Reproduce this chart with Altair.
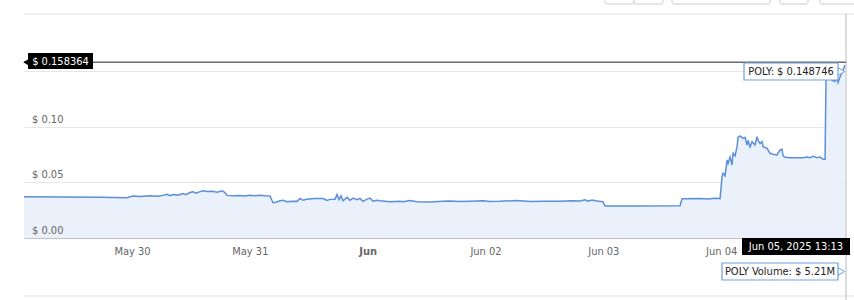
import altair as alt
import pandas as pd

# hours after 2025-05-29 00:00 UTC
hours = [2.0, 9.33, 17.48, 22.98, 24.20, 25.63, 27.67, 29.30, 30.31, 31.13, 31.74, 32.56, 33.37,
         34.39, 35.00, 35.81, 36.43, 37.04, 37.85, 38.46, 39.28, 40.30, 41.31, 42.33, 42.94,
         43.35, 44.57, 46.00, 47.02, 48.04, 49.06, 50.07, 51.09, 52.11, 52.72, 53.33, 54.15,
         54.76, 55.57, 56.59, 57.61, 58.22, 58.83, 59.85, 61.28, 62.91, 63.72, 64.33, 65.35,
         65.76, 66.17, 66.57, 66.98, 67.80, 68.41, 69.02, 69.83, 70.44, 71.05, 71.87, 72.48,
         73.09, 73.91, 74.52, 76.56, 78.59, 79.20, 80.63, 82.05, 84.70, 87.35, 88.78, 90.81,
         92.85, 95.50, 96.92, 98.96, 102.42, 105.07, 108.13, 111.18, 113.83, 115.26, 116.28,
         116.89, 117.70, 118.72, 119.94, 120.35, 127.48, 135.63, 136.04, 139.70, 141.33,
         142.76, 143.78, 144.19, 144.39, 144.80, 145.21, 145.41, 145.82, 146.22, 146.43,
         146.84, 147.24, 147.45, 147.85, 148.46, 148.87, 149.28, 149.48, 149.89, 150.30,
         150.91, 151.32, 151.52, 151.93, 152.34, 152.54, 153.35, 153.96, 154.57, 155.39,
         156.00, 156.41, 156.61, 157.02, 158.04, 159.46, 160.69, 161.50, 162.11, 162.72,
         163.53, 164.15, 164.76, 165.17, 165.37, 165.78, 166.59, 167.20, 167.61, 167.81,
         168.22, 168.83, 169.24]
price = [0.0372, 0.0370, 0.0366, 0.0363, 0.0378, 0.0374, 0.0380, 0.0376, 0.0384, 0.0393, 0.0382,
         0.0392, 0.0386, 0.0401, 0.0390, 0.0410, 0.0417, 0.0404, 0.0418, 0.0426, 0.0418, 0.0422,
         0.0412, 0.0426, 0.0410, 0.0384, 0.0380, 0.0383, 0.0378, 0.0385, 0.0380, 0.0385, 0.0380,
         0.0378, 0.0318, 0.0322, 0.0336, 0.0340, 0.0326, 0.0332, 0.0330, 0.0357, 0.0340, 0.0352,
         0.0356, 0.0356, 0.0338, 0.0348, 0.0350, 0.0392, 0.0345, 0.0380, 0.0335, 0.0366, 0.0340,
         0.0360, 0.0345, 0.0356, 0.0330, 0.0350, 0.0360, 0.0332, 0.0340, 0.0336, 0.0327, 0.0330,
         0.0327, 0.0338, 0.0326, 0.0324, 0.0330, 0.0334, 0.0328, 0.0332, 0.0336, 0.0328, 0.0330,
         0.0338, 0.0328, 0.0330, 0.0332, 0.0336, 0.0334, 0.0345, 0.0332, 0.0342, 0.0334, 0.0327,
         0.0288, 0.0288, 0.0290, 0.0354, 0.0355, 0.0352, 0.0357, 0.0355, 0.0553, 0.0583, 0.0560,
         0.0703, 0.0670, 0.0730, 0.0658, 0.0763, 0.0740, 0.0823, 0.0907, 0.0919, 0.0898, 0.0907,
         0.0838, 0.0880, 0.0820, 0.0868, 0.0838, 0.0913, 0.0880, 0.0853, 0.0868, 0.0823, 0.0808,
         0.0763, 0.0754, 0.0748, 0.0793, 0.0800, 0.0740, 0.0727, 0.0724, 0.0724, 0.0724, 0.0730,
         0.0724, 0.0736, 0.0724, 0.0730, 0.0709, 0.0709, 0.1454, 0.1468, 0.1423, 0.1410, 0.1440,
         0.1400, 0.1450, 0.1514, 0.1559]

y_label_values = [0.0, 0.05, 0.10]
y_label_texts = ["$ 0.00", "$ 0.05", "$ 0.10"]
grid_values = [0.05, 0.10, 0.15]
high_value = 0.158364
high_text = "$ 0.158364"
tooltip_text = "POLY: $ 0.148746"
date_text = "Jun 05, 2025 13:13"
volume_text = "POLY Volume: $ 5.21M"

FONT = "DejaVu Sans Condensed"
LINE = "#5b8fd8"
BLUE_BORDER = "#6c9fdc"

base_t = pd.Timestamp("2025-05-29T00:00:00")
df = pd.DataFrame({
    "t": [(base_t + pd.to_timedelta(h, unit="h")).strftime("%Y-%m-%dT%H:%M:%SZ") for h in hours],
    "price": price,
})

x_scale = alt.Scale(type="utc",
                    domain=[alt.DateTime(year=2025, month=5, date=29, hours=2, utc=True),
                            alt.DateTime(year=2025, month=6, date=5, hours=1, minutes=26, utc=True)])
y_scale = alt.Scale(domain=[0, 0.2018], nice=False, zero=True)

tick_vals = [alt.DateTime(year=2025, month=m, date=d, utc=True)
             for (m, d) in [(5, 30), (5, 31), (6, 1), (6, 2), (6, 3), (6, 4)]]

x_axis = alt.Axis(
    values=tick_vals, title=None, grid=False, ticks=False, tickSize=0,
    domain=True, domainColor="#c0c0c0", domainWidth=1,
    labelExpr="utcdate(datum.value) == 1 ? utcFormat(datum.value, '%b') : utcFormat(datum.value, '%b %d')",
    labelFontWeight={"condition": {"test": "utcdate(datum.value) == 1", "value": "bold"}, "value": "normal"},
    labelColor="#666666", labelFont=FONT, labelFontSize=11, labelPadding=7,
)
y_axis = alt.Axis(values=grid_values, labels=False, ticks=False, domain=False, title=None,
                  grid=True, gridColor="#e6e6e6", gridWidth=1)

area = alt.Chart(df).mark_area(
    color="#eaf1fb", opacity=1,
    line={"color": LINE, "strokeWidth": 1.5},
).encode(
    x=alt.X("t:T", scale=x_scale, axis=x_axis),
    y=alt.Y("price:Q", scale=y_scale, axis=y_axis),
)

ylab_df = pd.DataFrame({"v": y_label_values, "txt": y_label_texts})
ylabels = alt.Chart(ylab_df).mark_text(
    align="left", baseline="bottom", dy=-2, font=FONT, fontSize=11, color="#666666"
).encode(x=alt.value(8), y=alt.Y("v:Q", scale=y_scale), text="txt:N")

high_df = pd.DataFrame({"v": [high_value]})
high_rule = alt.Chart(high_df).mark_rule(color="#6b6b6b", strokeWidth=1.5).encode(
    y=alt.Y("v:Q", scale=y_scale), x=alt.value(0), x2=alt.value(822))

# decorations
top_line = alt.Chart(high_df).mark_rule(color="#e0e0e0", strokeWidth=1).encode(
    x=alt.value(0), x2=alt.value(830), y=alt.value(0))
right_line = alt.Chart(high_df).mark_rule(color="#b8b8b8", strokeWidth=1).encode(
    x=alt.value(822), y=alt.value(0), y2=alt.value(286))
bottom_line = alt.Chart(high_df).mark_rule(color="#e0e0e0", strokeWidth=1).encode(
    x=alt.value(0), x2=alt.value(830), y=alt.value(282))

buttons = []
for (a, b) in [(581, 610), (610, 639), (648, 746), (756, 784), (796, 832)]:
    buttons.append(alt.Chart(high_df).mark_rect(fill="#ffffff", stroke="#cccccc", strokeWidth=1, cornerRadius=2).encode(
        x=alt.value(a), x2=alt.value(b), y=alt.value(-30), y2=alt.value(-10)))

# black high label
high_arrow = alt.Chart(high_df).mark_point(shape="triangle-left", filled=True, color="#000000", size=40, opacity=1).encode(
    x=alt.value(2), y=alt.Y("v:Q", scale=y_scale))
high_box = alt.Chart(high_df).mark_rect(color="#000000").encode(
    x=alt.value(4), x2=alt.value(69), y=alt.value(39), y2=alt.value(55))
high_lbl = alt.Chart(pd.DataFrame({"txt": [high_text]})).mark_text(
    font=FONT, fontSize=11, color="#ffffff", align="center", baseline="middle").encode(
    x=alt.value(36.5), y=alt.value(47.5), text="txt:N")

# tooltip
tip_arrow = alt.Chart(high_df).mark_point(shape="triangle-right", filled=True, fill="#ffffff",
                                          stroke=BLUE_BORDER, strokeWidth=1, size=70, opacity=1).encode(
    x=alt.value(817), y=alt.value(57.5))
tip_box = alt.Chart(high_df).mark_rect(fill="#ffffff", stroke=BLUE_BORDER, strokeWidth=1.2).encode(
    x=alt.value(720), x2=alt.value(814), y=alt.value(49), y2=alt.value(66))
tip_lbl = alt.Chart(pd.DataFrame({"txt": [tooltip_text]})).mark_text(
    font=FONT, fontSize=11, color="#222222", align="center", baseline="middle").encode(
    x=alt.value(767), y=alt.value(58), text="txt:N")

# date label
date_box = alt.Chart(high_df).mark_rect(color="#000000").encode(
    x=alt.value(718), x2=alt.value(826), y=alt.value(224), y2=alt.value(241))
date_lbl = alt.Chart(pd.DataFrame({"txt": [date_text]})).mark_text(
    font=FONT, fontSize=11, color="#ffffff", align="center", baseline="middle").encode(
    x=alt.value(772), y=alt.value(233), text="txt:N")

# volume tooltip
vol_arrow = alt.Chart(high_df).mark_point(shape="triangle-right", filled=True, fill="#ffffff",
                                          stroke=BLUE_BORDER, strokeWidth=1, size=70, opacity=1).encode(
    x=alt.value(817), y=alt.value(257.5))
vol_box = alt.Chart(high_df).mark_rect(fill="#ffffff", stroke=BLUE_BORDER, strokeWidth=1.2).encode(
    x=alt.value(698), x2=alt.value(814), y=alt.value(249), y2=alt.value(266))
vol_lbl = alt.Chart(pd.DataFrame({"txt": [volume_text]})).mark_text(
    font=FONT, fontSize=11, color="#222222", align="center", baseline="middle").encode(
    x=alt.value(756), y=alt.value(258), text="txt:N")

chart = alt.layer(
    area, top_line, bottom_line, right_line, *buttons, ylabels, high_rule,
    high_arrow, high_box, high_lbl,
    tip_arrow, tip_box, tip_lbl,
    date_box, date_lbl,
    vol_arrow, vol_box, vol_lbl,
).properties(
    width=822, height=224,
    autosize=alt.AutoSizeParams(type="none"),
    padding={"left": 24, "top": 14, "right": 8, "bottom": 62},
    background="#ffffff",
).configure_view(strokeWidth=0)

chart.save("out.html", embed_options={"renderer": "svg", "actions": False})
